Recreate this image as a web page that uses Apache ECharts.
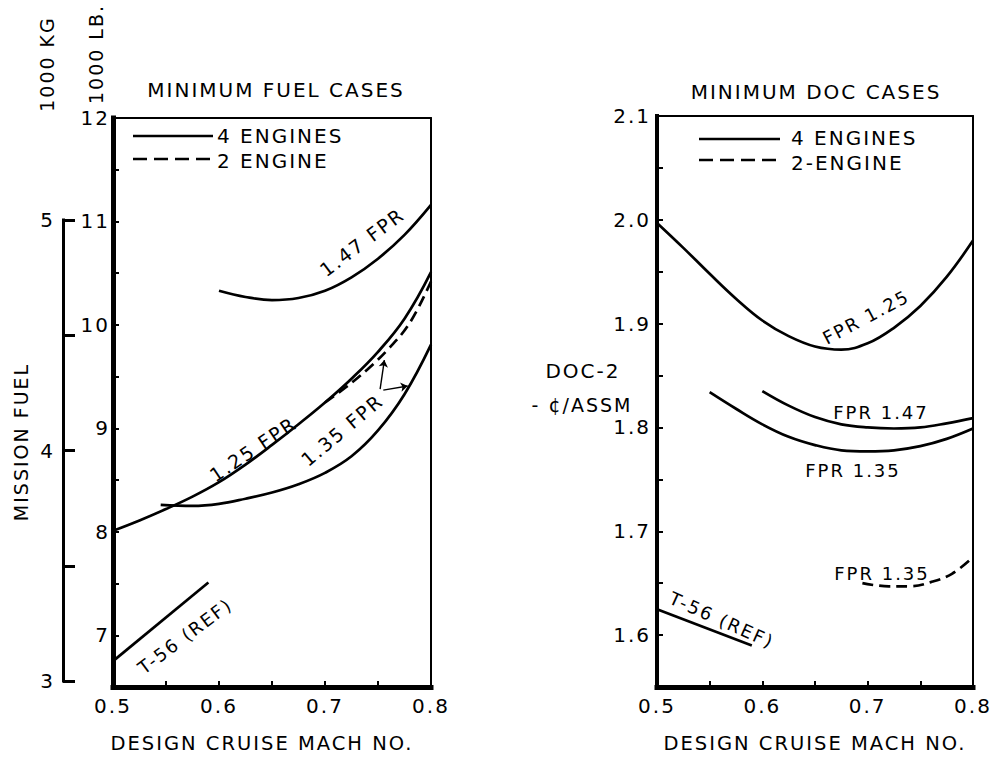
<!DOCTYPE html>
<html>
<head>
<meta charset="utf-8">
<script src="https://cdn.jsdelivr.net/npm/echarts@6/dist/echarts.min.js"></script>
<style>
  html, body { margin: 0; padding: 0; background: #fff; }
  #chart { width: 997px; height: 758px; }
  #chart svg text { letter-spacing: 2px; }
</style>
</head>
<body>
<div id="chart"></div>
<script>
// ---- Minimum fuel cases (mission fuel, 1000 lb) ----
const fuelFpr147Mach = [0.6, 0.625, 0.65, 0.675, 0.7, 0.725, 0.75, 0.775, 0.8];
const fuelFpr147 = [10.33, 10.27, 10.24, 10.26, 10.33, 10.46, 10.64, 10.87, 11.16];

const fuelFpr125Mach = [0.5, 0.525, 0.55, 0.575, 0.6, 0.625, 0.65, 0.675, 0.7, 0.725, 0.75, 0.775, 0.8];
const fuelFpr125 = [8.01, 8.11, 8.22, 8.34, 8.48, 8.65, 8.84, 9.04, 9.25, 9.48, 9.74, 10.06, 10.51];

const fuelFpr135Mach = [0.545, 0.575, 0.6, 0.625, 0.65, 0.675, 0.7, 0.725, 0.75, 0.775, 0.8];
const fuelFpr135 = [8.26, 8.25, 8.27, 8.32, 8.38, 8.46, 8.57, 8.73, 8.98, 9.33, 9.81];

const fuelTwinMach = [0.7, 0.72, 0.74, 0.76, 0.78, 0.8];
const fuelTwin = [9.25, 9.40, 9.57, 9.77, 10.02, 10.42];

const fuelRefMach = [0.5, 0.59];
const fuelRef = [6.75, 7.51];

// pointers from the "1.35 FPR" note to the two 1.35 curves
const pointerFrom = [[0.752, 9.38], [0.755, 9.37]];
const pointerTo = [[0.756, 9.66], [0.778, 9.41]];

// ---- Minimum DOC cases (DOC-2, cents per available seat statute mile) ----
const docFpr125Mach = [0.5, 0.525, 0.55, 0.575, 0.6, 0.625, 0.65, 0.675, 0.7, 0.725, 0.75, 0.775, 0.8];
const docFpr125 = [1.997, 1.973, 1.948, 1.924, 1.903, 1.888, 1.878, 1.875, 1.881, 1.896, 1.917, 1.945, 1.980];

const docFpr147Mach = [0.6, 0.625, 0.65, 0.675, 0.7, 0.725, 0.75, 0.775, 0.8];
const docFpr147 = [1.835, 1.821, 1.810, 1.803, 1.800, 1.799, 1.800, 1.804, 1.809];

const docFpr135Mach = [0.55, 0.575, 0.6, 0.625, 0.65, 0.675, 0.7, 0.725, 0.75, 0.775, 0.8];
const docFpr135 = [1.834, 1.818, 1.803, 1.791, 1.783, 1.778, 1.777, 1.778, 1.782, 1.789, 1.799];

const docTwinMach = [0.695, 0.72, 0.74, 0.76, 0.78, 0.8];
const docTwin = [1.650, 1.647, 1.647, 1.651, 1.659, 1.675];

const docRefMach = [0.5, 0.59];
const docRef = [1.625, 1.59];

// ---- axis ranges ----
const machRange = [0.5, 0.8];
const fuelLbRange = [6.5, 12];
const fuelKgRange = [3, 5];
const docRange = [1.55, 2.1];

const FONT = '"DejaVu Sans", "Liberation Sans", sans-serif';
const INK = '#000';

function pairs(xs, ys) { return xs.map((x, i) => [x, ys[i]]); }

function tenthLabel(v) {
  return Math.round(v * 100) % 10 === 0 ? v.toFixed(1) : '';
}
function wholeLabel(v) {
  return Math.abs(v - Math.round(v)) < 1e-9 ? String(Math.round(v)) : '';
}

// bottom Mach axis with inward ticks
function machAxis(gridIndex, padRight) {
  return {
    gridIndex, type: 'value', position: 'bottom', min: machRange[0], max: machRange[1], interval: 0.05,
    axisLine: { show: true, onZero: false, lineStyle: { color: INK, width: 5, cap: 'square' } },
    axisTick: { show: true, inside: true, length: 6, lineStyle: { color: INK, width: 2 } },
    axisLabel: { formatter: tenthLabel, color: INK, fontSize: 20, fontFamily: FONT, margin: 9 },
    splitLine: { show: false },
    name: 'DESIGN CRUISE MACH NO.', nameLocation: 'middle', nameGap: 46,
    nameTextStyle: { color: INK, fontSize: 19.5, fontFamily: FONT, padding: [0, padRight, 0, 0] }
  };
}
// thin frame edge (top or right) without ticks or labels
function frameAxis(gridIndex, position, range) {
  return {
    gridIndex, type: 'value', position, min: range[0], max: range[1],
    axisLine: { show: true, onZero: false, lineStyle: { color: INK, width: 2 } },
    axisTick: { show: false }, axisLabel: { show: false }, splitLine: { show: false }
  };
}
function valueAxis(gridIndex, range, interval, formatter, lineWidth, tickLen, tickWidth, margin) {
  return {
    gridIndex, type: 'value', position: 'left', min: range[0], max: range[1], interval,
    axisLine: { show: true, onZero: false, lineStyle: { color: INK, width: lineWidth, cap: 'square' } },
    axisTick: { show: true, inside: true, length: tickLen, lineStyle: { color: INK, width: tickWidth } },
    axisLabel: { formatter, color: INK, fontSize: 20, fontFamily: FONT, margin },
    splitLine: { show: false }
  };
}

function curve(name, xi, yi, xs, ys, dashed, extra) {
  return Object.assign({
    name, type: 'line', xAxisIndex: xi, yAxisIndex: yi,
    data: pairs(xs, ys), smooth: 0.4, symbol: 'none', showSymbol: false,
    silent: true, animation: false, z: 3,
    lineStyle: { color: INK, width: 2.7, type: dashed ? [11, 6] : 'solid' }
  }, extra || {});
}

function label(text, x, y, deg, size) {
  return {
    type: 'text', x, y, rotation: (deg || 0) * Math.PI / 180,
    style: {
      text, fill: INK, font: (size || 19) + 'px ' + FONT,
      textAlign: 'center', textVerticalAlign: 'middle', align: 'center', verticalAlign: 'middle'
    }
  };
}
function leftLabel(text, x, y, size) {
  return {
    type: 'text', x, y,
    style: {
      text, fill: INK, font: (size || 19) + 'px ' + FONT,
      textAlign: 'left', textVerticalAlign: 'middle', align: 'left', verticalAlign: 'middle'
    }
  };
}
function keyLine(x1, x2, y, dashed) {
  return {
    type: 'line', shape: { x1, y1: y, x2, y2: y },
    style: { stroke: INK, lineWidth: 2.7, lineDash: dashed ? [14, 7] : null }
  };
}

const option = {
  backgroundColor: '#fff',
  animation: false,
  grid: [
    { left: 113, top: 118, width: 318, height: 575 },
    { left: 657, top: 116, width: 316, height: 578 },
    { left: 63, top: 220, width: 1, height: 461 }
  ],
  xAxis: [
    machAxis(0, 20),
    frameAxis(0, 'top', machRange),
    machAxis(1, 0),
    frameAxis(1, 'top', machRange),
    { gridIndex: 2, type: 'value', min: 0, max: 1, show: false }
  ],
  yAxis: [
    valueAxis(0, fuelLbRange, 0.5, wholeLabel, 5, 6, 2, 3),
    frameAxis(0, 'right', fuelLbRange),
    valueAxis(1, docRange, 0.05, tenthLabel, 4, 6, 2, 6),
    frameAxis(1, 'right', docRange),
    valueAxis(2, fuelKgRange, 0.5, wholeLabel, 3, 12, 3, 8)
  ],
  series: [
    curve('1.47 FPR', 0, 0, fuelFpr147Mach, fuelFpr147, false),
    curve('1.25 FPR', 0, 0, fuelFpr125Mach, fuelFpr125, false),
    curve('1.35 FPR', 0, 0, fuelFpr135Mach, fuelFpr135, false),
    curve('1.35 FPR 2 ENGINE', 0, 0, fuelTwinMach, fuelTwin, true, {
      markLine: {
        silent: true, symbol: ['none', 'arrow'], symbolSize: 7, animation: false,
        label: { show: false },
        lineStyle: { color: INK, width: 1.4, type: 'solid' },
        data: pointerFrom.map((p, i) => [{ coord: p }, { coord: pointerTo[i] }])
      }
    }),
    curve('T-56 (REF)', 0, 0, fuelRefMach, fuelRef, false, { smooth: false }),

    curve('FPR 1.25', 2, 2, docFpr125Mach, docFpr125, false),
    curve('FPR 1.47', 2, 2, docFpr147Mach, docFpr147, false),
    curve('FPR 1.35', 2, 2, docFpr135Mach, docFpr135, false),
    curve('FPR 1.35 2-ENGINE', 2, 2, docTwinMach, docTwin, true),
    curve('T-56 (REF) DOC', 2, 2, docRefMach, docRef, false, { smooth: false })
  ],
  graphic: [
    // scale units and quantity
    label('1000 KG', 47, 64, 90, 19),
    label('1000 LB.', 96, 54, 90, 19),
    label('MISSION FUEL', 21, 442, 90, 19),
    label('MINIMUM FUEL CASES', 276, 90, 0, 20),
    label('MINIMUM DOC CASES', 816, 92, 0, 20),
    label('DOC-2', 583, 371, 0, 20),
    label('- ¢/ASSM', 582, 405, 0, 19),

    // keys
    keyLine(133, 213, 136, false),
    leftLabel('4 ENGINES', 217, 136, 20),
    keyLine(133, 213, 159, true),
    leftLabel('2 ENGINE', 217, 161, 20),
    keyLine(699, 780, 139, false),
    leftLabel('4 ENGINES', 791, 138, 20),
    keyLine(699, 780, 160, true),
    leftLabel('2-ENGINE', 791, 163, 20),

    // curve notes
    label('1.47 FPR', 362, 242, 37, 19),
    label('1.25 FPR', 253, 449, 34, 19),
    label('1.35 FPR', 342, 430, 40, 19),
    label('T-56 (REF)', 185, 636, 37, 18),
    label('FPR 1.25', 866, 317, 28, 18),
    label('FPR 1.47', 881, 412, 0, 18),
    label('FPR 1.35', 853, 470, 0, 18),
    label('FPR 1.35', 882, 573, 0, 18),
    label('T-56 (REF)', 722, 620, -24, 18)
  ]
};

const chart = echarts.init(document.getElementById('chart'), null, { renderer: 'svg', width: 997, height: 758 });
chart.setOption(option);
</script>
</body>
</html>
